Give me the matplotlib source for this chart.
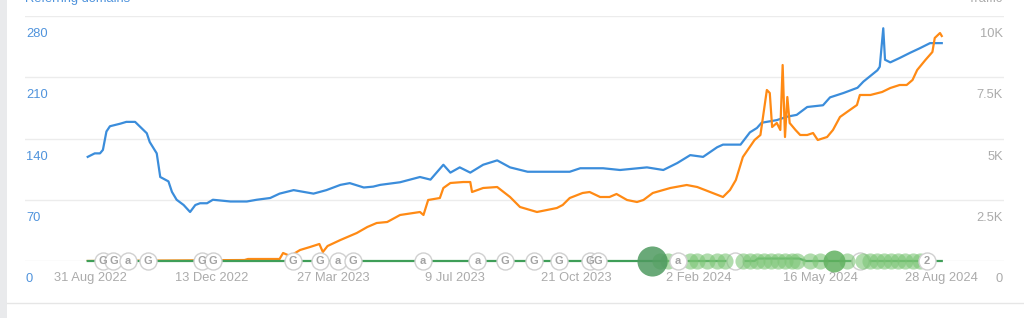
import numpy as np
import pandas as pd
import matplotlib
matplotlib.use('Agg')
import matplotlib.pyplot as plt
from matplotlib.patches import Rectangle
from matplotlib.lines import Line2D

plt.rcParams['font.family'] = ['Liberation Sans', 'DejaVu Sans']

start = pd.Timestamp('2022-08-31')

## Referring domains (left axis), days counted from 31 Aug 2022
rd_days = [-2, 4, 8.5, 11, 14, 17, 26, 31, 38.5, 48.5, 51, 57, 60, 67, 70, 74, 80, 85.5,
           90, 94, 100, 105, 120, 134, 142.5, 154, 162, 174, 191, 202, 214, 222, 234, 242, 248,
           265, 282, 291, 302, 308, 316, 325, 336, 348, 359, 374, 393, 410, 419, 438.5, 453,
           476, 490, 502, 513, 524, 536, 541, 556, 564, 570, 574, 587, 596, 604, 613, 626.5,
           632.5, 644, 656, 661, 673, 675, 678, 679.5, 684, 692, 701, 709, 718, 728]
rd_vals = [119, 123, 123, 127, 148, 154, 157, 159, 159, 146, 136, 123, 96, 91, 79, 70, 64, 56,
           64, 66, 66, 70, 68, 68, 70, 72, 77, 81, 77, 81, 87, 89, 84, 85, 87,
           90, 96, 93, 110, 101, 107, 101, 110, 115, 107, 102, 102, 102, 106, 106, 104,
           107, 104, 112, 121, 119, 130, 133, 133, 147, 152, 158, 161, 165, 167, 176, 178,
           187, 192, 198, 205, 218, 222, 266, 230, 227, 232, 238, 243, 249, 249]

## Organic traffic (right axis)
traffic_days = [-2, 132, 135, 162, 165, 171, 179.5, 188, 196, 199, 203, 214, 228, 237, 245, 254,
                265, 282, 285, 289, 299, 302, 308, 319, 325, 326.5, 336, 348, 359, 367.5, 382,
                399, 404, 410, 421, 427, 436, 444, 450, 459, 467.5, 473, 481, 496, 510, 519,
                530, 541, 547, 552, 558, 568, 573, 578.5, 581, 583, 587, 590, 592, 594, 596,
                598, 603, 607, 613, 618, 622, 630, 635, 641, 647, 655.5, 658, 667, 677, 684,
                692, 698, 703, 707, 714, 720, 722, 726.5, 728]
traffic_vals = [0, 40, 82, 82, 327, 204, 449, 571, 694, 367, 612, 857, 1143, 1388, 1551, 1592,
                1878, 2000, 1878, 2490, 2571, 2980, 3184, 3224, 3224, 2816, 2980, 3020, 2612, 2204, 2000,
                2163, 2286, 2571, 2776, 2816, 2612, 2612, 2735, 2490, 2408, 2490, 2776, 2980, 3102, 3020,
                2816, 2612, 2898, 3306, 4245, 4939, 5143, 6980, 6857, 5469, 5633, 5347, 8000, 5061, 6694,
                5633, 5347, 5143, 5143, 5224, 4939, 5061, 5347, 5878, 6082, 6367, 6776, 6776, 6898, 7061,
                7184, 7184, 7388, 7796, 8204, 8531, 9102, 9306, 9184]

## Green baseline series
green_days = [-2, 568, 571, 606, 612, 728]
green_vals = [0, 0, 100, 100, 0, 0]

## Event bubbles
event_days = [487, 494, 513, 519, 527, 536, 543, 558, 564, 570, 576, 582, 588, 594, 600, 604,
              615, 624, 647, 661, 667, 673, 679, 685, 691, 697, 703, 709]
big_event_day = 480
mid_event_day = 636

## Annotation markers
note_days = [11, 20, 32.5, 49.5, 96, 105, 173.5, 196.5, 212, 225, 284.5, 331, 355, 379.5,
             401, 427.5, 434, 502.5, 551, 658, 715.5]
note_labels = ['G', 'G', 'a', 'G', 'G', 'G', 'G', 'G', 'a', 'G', 'a', 'a', 'G', 'G',
               'G', 'G', 'G', 'a', '', '', '2']

left_ticks = [0, 70, 140, 210, 280]
right_ticks = [0, 2500, 5000, 7500, 10000]
right_labels = ['0', '2.5K', '5K', '7.5K', '10K']
date_ticks = ['31 Aug 2022', '13 Dec 2022', '27 Mar 2023', '9 Jul 2023',
              '21 Oct 2023', '2 Feb 2024', '16 May 2024', '28 Aug 2024']


def to_date(d):
    return start + pd.to_timedelta(np.asarray(d, dtype=float), unit='D')


W, H = 1024, 318
fig = plt.figure(figsize=(W / 100, H / 100), dpi=100)
fig.patch.set_facecolor('white')
ax = fig.add_axes([25 / W, 1 - 261 / H, (1004 - 25) / W, (261 - 16) / H])
ax2 = ax.twinx()

blue = '#3b8ddb'
orange = '#ff8a14'
green = '#3f9e58'
gray = '#ababab'
fs = 9.3

ax.plot(to_date(rd_days), rd_vals, color=blue, lw=1.6, zorder=3)
ax2.plot(to_date(traffic_days), traffic_vals, color=orange, lw=1.6, zorder=2)
ax2.plot(to_date(green_days), green_vals, color=green, lw=1.6, zorder=3, clip_on=False)

ax.set_xlim(to_date(-55.6), to_date(781.2))
ax.set_ylim(0, 280)
ax2.set_ylim(0, 10000)

for a in (ax, ax2):
    for s in a.spines.values():
        s.set_visible(False)
ax.set_yticks(left_ticks)
ax.yaxis.grid(True, color='#ececec', lw=1)
ax.set_axisbelow(True)
ax.tick_params(axis='y', length=0, labelleft=False)
ax2.set_yticks(right_ticks)
ax2.tick_params(axis='y', length=0, labelright=False)

ax.set_xticks(pd.to_datetime(date_ticks, format='%d %b %Y'))
ax.set_xticklabels(date_ticks)
ax.tick_params(axis='x', length=0, pad=8, labelcolor=gray, labelsize=fs)

for v in left_ticks:
    ax.annotate(str(v), xy=(0, v), xycoords=ax.get_yaxis_transform(),
                xytext=(1, -18), textcoords='offset pixels', ha='left', va='center',
                color='#4f93dc', fontsize=fs, annotation_clip=False)
for v, lbl in zip(right_ticks, right_labels):
    ax2.annotate(lbl, xy=(1, v), xycoords=ax2.get_yaxis_transform(),
                 xytext=(-1, -18), textcoords='offset pixels', ha='right', va='center',
                 color=gray, fontsize=fs, annotation_clip=False)

# annotation circles
for d, lbl in zip(note_days, note_labels):
    z = 4 if lbl == '' else 6
    ax2.scatter(to_date([d]), [0], s=150, facecolor='white', edgecolor='#d0d0d0',
                linewidth=1, zorder=z, clip_on=False)
    if lbl:
        ax2.text(to_date([d])[0], 0, lbl, ha='center', va='center', fontsize=8,
                 fontweight='bold', color='#a3a3a3', zorder=z + 0.1, clip_on=False)

# event bubbles
ax2.scatter(to_date(event_days), np.zeros(len(event_days)), s=135, color='#7cc576',
            alpha=0.6, linewidth=0, zorder=5, clip_on=False)
ax2.scatter(to_date([big_event_day]), [0], s=470, color='#4f9a60', alpha=0.85,
            linewidth=0, zorder=5, clip_on=False)
ax2.scatter(to_date([mid_event_day]), [0], s=250, color='#62b160', alpha=0.85,
            linewidth=0, zorder=5, clip_on=False)

fig.text(25 / W, 1 - 2 / H, 'Referring domains', color='#4f93dc', fontsize=fs, va='baseline')
fig.text(1003 / W, 1 - 2 / H, 'Traffic', color=gray, fontsize=fs, va='baseline', ha='right')

fig.add_artist(Rectangle((0, 0), 7 / W, 1, transform=fig.transFigure, color='#e9eaec', lw=0))
fig.add_artist(Line2D([7 / W, 1], [1 - 303 / H] * 2, transform=fig.transFigure,
                      color='#e6e6e6', lw=1))

fig.savefig('out.png', dpi=100)
